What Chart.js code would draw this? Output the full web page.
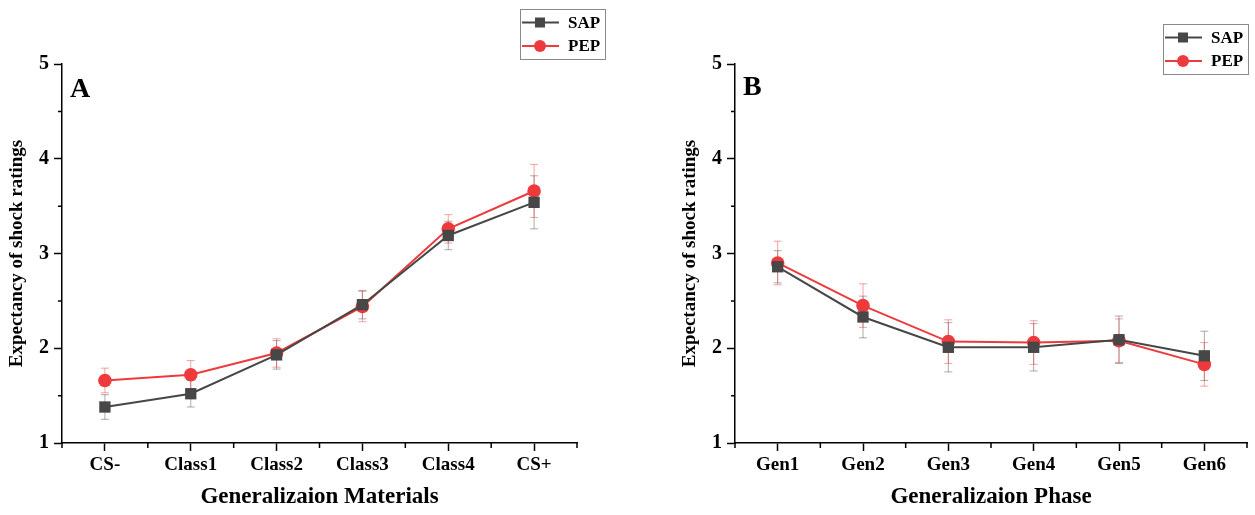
<!DOCTYPE html>
<html>
<head>
<meta charset="utf-8">
<script src="https://cdn.jsdelivr.net/npm/chart.js@4.4.1/dist/chart.umd.min.js"></script>
<style>
    body { margin: 0; background: #fff; width: 1255px; height: 515px; overflow: hidden; position: relative; }
    .pannello { position: absolute; top: 0; height: 515px; }
</style>
</head>
<body>
<div class="pannello" style="left:0;width:627px"><canvas id="grafico-a"></canvas></div>
<div class="pannello" style="left:673px;width:582px"><canvas id="grafico-b"></canvas></div>
<script>
// Dati pannello A (materiali di generalizzazione)
const materiali = ["CS-", "Class1", "Class2", "Class3", "Class4", "CS+"];
const sapMateriali = [1.38, 1.52, 1.93, 2.46, 3.19, 3.54];
const pepMateriali = [1.66, 1.72, 1.95, 2.44, 3.26, 3.66];
const sapMaterialiErr = [0.13, 0.14, 0.15, 0.15, 0.15, 0.28];
const pepMaterialiErr = [0.13, 0.15, 0.15, 0.16, 0.15, 0.28];

// Dati pannello B (fasi di generalizzazione)
const fasi = ["Gen1", "Gen2", "Gen3", "Gen4", "Gen5", "Gen6"];
const sapFasi = [2.86, 2.33, 2.01, 2.01, 2.09, 1.92];
const pepFasi = [2.90, 2.45, 2.07, 2.06, 2.08, 1.83];
const sapFasiErr = [0.17, 0.22, 0.26, 0.25, 0.25, 0.26];
const pepFasiErr = [0.23, 0.23, 0.23, 0.23, 0.23, 0.23];

const serie = ["SAP", "PEP"];
const yMin = 1, yMax = 5;

const FONT = "'Liberation Serif', 'Times New Roman', serif";
const COL_SAP = "#474747";
const COL_PEP = "#ef3a3d";
const ERR_SAP = "rgba(90,90,90,0.5)";
const ERR_PEP = "rgba(240,70,70,0.5)";

// barre d'errore, disegnate sotto i marker
const barreErrore = {
    id: "barreErrore",
    beforeDatasetsDraw(chart) {
        const ctx = chart.ctx;
        const y = chart.scales.y;
        chart.data.datasets.forEach((ds, i) => {
            const meta = chart.getDatasetMeta(i);
            ctx.save();
            ctx.strokeStyle = ds.errColor;
            ctx.lineWidth = 1;
            meta.data.forEach((pt, j) => {
                const top = y.getPixelForValue(ds.data[j] + ds.err[j]);
                const bot = y.getPixelForValue(ds.data[j] - ds.err[j]);
                ctx.beginPath();
                ctx.moveTo(pt.x, top); ctx.lineTo(pt.x, bot);
                ctx.moveTo(pt.x - 4, top); ctx.lineTo(pt.x + 4, top);
                ctx.moveTo(pt.x - 4, bot); ctx.lineTo(pt.x + 4, bot);
                ctx.stroke();
            });
            ctx.restore();
        });
    }
};

// tacche minori, lettera del pannello e legenda
const decorazioni = {
    id: "decorazioni",
    afterDraw(chart, args, opts) {
        const ctx = chart.ctx;
        const x = chart.scales.x, y = chart.scales.y;
        const area = chart.chartArea;
        ctx.save();
        ctx.strokeStyle = "#000";
        ctx.lineWidth = 1.5;
        ctx.beginPath();
        for (let v = yMin + 0.5; v < yMax; v += 1) {
            const py = y.getPixelForValue(v);
            ctx.moveTo(area.left, py); ctx.lineTo(area.left - 4, py);
        }
        for (let k = -0.5; k < x.getLabels().length; k += 1) {
            const px = x.getPixelForValue(k);
            ctx.moveTo(px, area.bottom); ctx.lineTo(px, area.bottom + 5);
        }
        ctx.stroke();

        ctx.fillStyle = "#000";
        ctx.font = "bold 28px " + FONT;
        ctx.textBaseline = "alphabetic";
        ctx.fillText(opts.lettera, area.left + opts.letteraDx, opts.letteraY);

        // legenda
        const lx = opts.legX, ly = opts.legY;
        ctx.strokeStyle = "#8a8a8a";
        ctx.lineWidth = 1;
        ctx.strokeRect(lx + 0.5, ly + 0.5, 85, 50);
        chart.data.datasets.forEach((ds, i) => {
            const cy = ly + 13.5 + i * 23.5;
            ctx.strokeStyle = ds.borderColor;
            ctx.lineWidth = 2;
            ctx.beginPath();
            ctx.moveTo(lx + 2, cy); ctx.lineTo(lx + 39, cy);
            ctx.stroke();
            ctx.fillStyle = ds.borderColor;
            if (ds.pointStyle === "rect") {
                ctx.fillRect(lx + 15, cy - 5, 10, 10);
            } else {
                ctx.beginPath();
                ctx.arc(lx + 20, cy, 6, 0, Math.PI * 2);
                ctx.fill();
            }
            ctx.fillStyle = "#000";
            ctx.font = "bold 17px " + FONT;
            ctx.textBaseline = "middle";
            ctx.fillText(ds.label, lx + 48, cy + 1);
        });
        ctx.restore();
    }
};

function creaGrafico(id, categorie, sap, pep, sapErr, pepErr, titoloX, lettera, padDestra, legX, legY, letteraY) {
    return new Chart(document.getElementById(id), {
        type: "line",
        data: {
            labels: categorie,
            datasets: [{
                label: serie[0],
                data: sap,
                err: sapErr,
                errColor: ERR_SAP,
                borderColor: COL_SAP,
                backgroundColor: COL_SAP,
                borderWidth: 2,
                pointStyle: "rect",
                pointRadius: 8,
                pointBorderWidth: 0,
                tension: 0
            }, {
                label: serie[1],
                data: pep,
                err: pepErr,
                errColor: ERR_PEP,
                borderColor: COL_PEP,
                backgroundColor: COL_PEP,
                borderWidth: 2,
                pointStyle: "circle",
                pointRadius: 6.8,
                pointBorderWidth: 0,
                tension: 0
            }]
        },
        options: {
            responsive: true,
            maintainAspectRatio: false,
            animation: false,
            layout: { padding: { top: 64, right: padDestra, left: 0, bottom: 0 } },
            plugins: {
                legend: { display: false },
                tooltip: { enabled: false },
                decorazioni: { lettera: lettera, letteraDx: 8, letteraY: letteraY, legX: legX, legY: legY }
            },
            scales: {
                x: {
                    type: "category",
                    offset: true,
                    grid: { display: true, offset: false, drawOnChartArea: false, drawTicks: true, tickLength: 8, tickColor: "#000", tickWidth: 1.5 },
                    border: { display: true, color: "#000", width: 1.5 },
                    ticks: { color: "#000", font: { family: FONT, size: 19, weight: "bold" }, padding: 3, maxRotation: 0 },
                    title: { display: true, text: titoloX, color: "#000", font: { family: FONT, size: 23, weight: "bold" }, padding: { top: 0, bottom: 4 } },
                    afterFit(scale) { scale.height = 72; }
                },
                y: {
                    min: yMin,
                    max: yMax,
                    grid: { display: true, drawOnChartArea: false, drawTicks: true, tickLength: 8, tickColor: "#000", tickWidth: 1.5 },
                    border: { display: true, color: "#000", width: 1.5 },
                    ticks: { stepSize: 1, color: "#000", font: { family: FONT, size: 20, weight: "bold" }, padding: 5 },
                    title: { display: true, text: "Expectancy of shock ratings", color: "#000", font: { family: FONT, size: 19, weight: "bold" }, padding: { top: 6, bottom: 0 } },
                    afterFit(scale) { scale.width = 62; }
                }
            }
        },
        plugins: [barreErrore, decorazioni]
    });
}

creaGrafico("grafico-a", materiali, sapMateriali, pepMateriali, sapMaterialiErr, pepMaterialiErr,
    "Generalizaion Materials", "A", 50, 520, 9, 97);
creaGrafico("grafico-b", fasi, sapFasi, pepFasi, sapFasiErr, pepFasiErr,
    "Generalizaion Phase", "B", 4, 490, 24, 95);
</script>
</body>
</html>
